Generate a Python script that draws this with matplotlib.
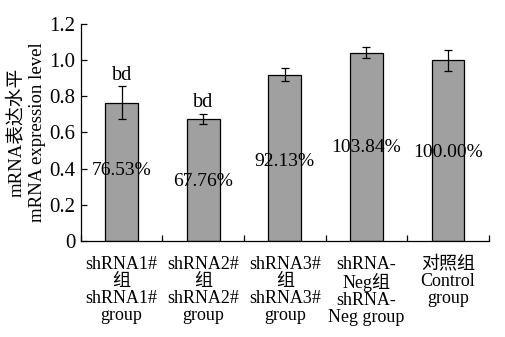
import matplotlib
matplotlib.use('Agg')
import matplotlib.pyplot as plt
import numpy as np

plt.rcParams['font.family'] = ['Liberation Serif', 'Noto Sans CJK SC']

groups = ['shRNA1#\n组\nshRNA1#\ngroup', 'shRNA2#\n组\nshRNA2#\ngroup',
          'shRNA3#\n组\nshRNA3#\ngroup', 'shRNA-\nNeg组\nshRNA-\nNeg group',
          '对照组\nControl\ngroup']
levels = [0.765, 0.675, 0.92, 1.04, 1.0]
errors = [0.09, 0.028, 0.035, 0.03, 0.058]
pct_labels = ['76.53%', '67.76%', '92.13%', '103.84%', '100.00%']
pct_y = [0.39, 0.33, 0.44, 0.515, 0.49]
sig_labels = ['bd', 'bd', '', '', '']
yticks = [0, 0.2, 0.4, 0.6, 0.8, 1.0, 1.2]
ytick_labels = ['0', '0.2', '0.4', '0.6', '0.8', '1.0', '1.2']

fig = plt.figure(figsize=(5.05, 3.37), dpi=100)
ax = fig.add_axes([0.160, 0.285, 0.808, 0.644])

x = np.arange(len(levels))
ax.bar(x, levels, width=0.4, color='#a0a0a0', edgecolor='black', linewidth=0.9,
       yerr=errors, error_kw=dict(ecolor='black', elinewidth=0.9, capsize=3, capthick=0.9))

for i in range(len(levels)):
    ax.text(x[i], pct_y[i], pct_labels[i], ha='center', va='center', fontsize=14)
    if sig_labels[i]:
        ax.text(x[i], levels[i] + errors[i] + 0.01, sig_labels[i], ha='center', va='bottom',
                fontsize=14.5)

ax.set_xlim(-0.5, 4.5)
ax.set_ylim(0, 1.2)
ax.set_yticks(yticks)
ax.set_yticklabels(ytick_labels, fontsize=15)
ax.set_xticks(np.arange(-0.5, 5.0, 1.0))
ax.set_xticklabels([])
ax.set_xticks(x, minor=True)
ax.set_xticklabels(groups, minor=True, fontsize=13, linespacing=1.0)
ax.tick_params(axis='x', which='minor', length=0, pad=11)
ax.tick_params(axis='both', which='major', direction='in', length=4, width=0.9)
ax.tick_params(axis='y', pad=4)
ax.spines['top'].set_visible(False)
ax.spines['right'].set_visible(False)
for s in ['left', 'bottom']:
    ax.spines[s].set_linewidth(0.9)

ax.set_ylabel('mRNA表达水平\nmRNA expression level', fontsize=13.5, linespacing=1.35,
              labelpad=2)

fig.savefig('out.png', dpi=100)
